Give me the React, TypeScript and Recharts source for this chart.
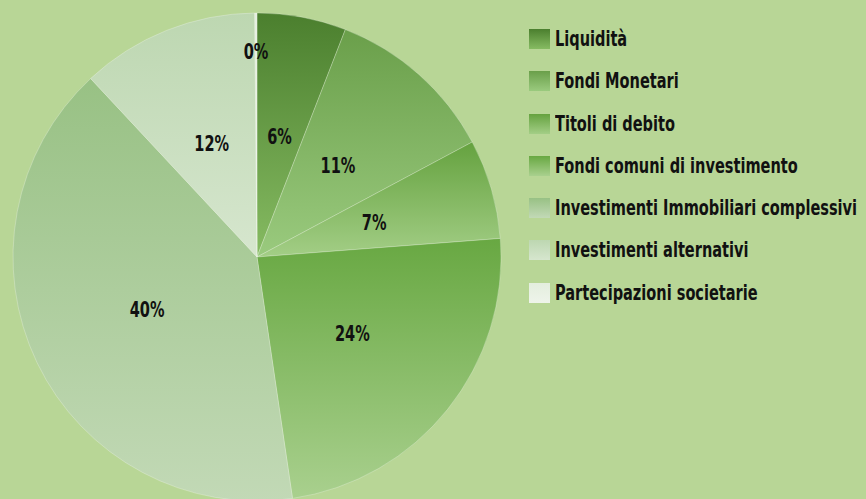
import React from 'react';
import { PieChart, Pie, Cell, Legend } from 'recharts';

const CATEGORIES = [
  'Liquidità',
  'Fondi Monetari',
  'Titoli di debito',
  'Fondi comuni di investimento',
  'Investimenti Immobiliari complessivi',
  'Investimenti alternativi',
  'Partecipazioni societarie',
];
const VALUES = [5.9, 11.3, 6.6, 23.9, 40.4, 11.8, 0.15];

const COLOR_TOP = ['#4b7f2e', '#6a9f4a', '#65a23f', '#68a842', '#98c184', '#bdd7b1', '#e4eede'];
const COLOR_BOTTOM = ['#86bb62', '#9aca7e', '#a3ce86', '#a9d08e', '#c2d9b6', '#d6e6ce', '#eef4ea'];

const data = CATEGORIES.map((name, i) => ({ name, value: VALUES[i] }));

const FONT = '"Liberation Sans Narrow", "DejaVu Sans Condensed", sans-serif';
const RADIAN = Math.PI / 180;
const SQUEEZE = 0.735;

const renderLabel = (props: any) => {
  const { cx, cy, midAngle, outerRadius, percent } = props;
  const r = percent < 0.01 ? outerRadius * 0.84 : outerRadius * 0.5;
  const x = cx + r * Math.cos(-midAngle * RADIAN);
  const y = cy + r * Math.sin(-midAngle * RADIAN);
  return (
    <text
      x={0}
      y={0}
      transform={`translate(${x},${y}) scale(${SQUEEZE},1)`}
      fill="#111"
      textAnchor="middle"
      dominantBaseline="central"
      fontFamily={FONT}
      fontWeight="bold"
      fontSize={22}
    >
      {`${Math.round(percent * 100)}%`}
    </text>
  );
};

const renderLegend = () => (
  <div style={{ fontFamily: FONT, fontWeight: 'bold', fontSize: 22, color: '#111' }}>
    {CATEGORIES.map((name, i) => (
      <div
        key={name}
        style={{ display: 'flex', alignItems: 'center', height: 20, marginBottom: 22.3, whiteSpace: 'nowrap' }}
      >
        <div
          style={{
            width: 21,
            height: 20,
            flexShrink: 0,
            marginRight: 5,
            background: `linear-gradient(${COLOR_TOP[i]}, ${COLOR_BOTTOM[i]})`,
          }}
        />
        <span
          style={{
            lineHeight: '20px',
            display: 'inline-block',
            transform: `scaleX(${SQUEEZE})`,
            transformOrigin: 'left center',
          }}
        >
          {name}
        </span>
      </div>
    ))}
  </div>
);

export default function App() {
  return (
    <div style={{ position: 'absolute', left: 0, top: 0, width: 866, height: 499, background: '#b8d696', overflow: 'hidden' }}>
      <PieChart width={866} height={499} margin={{ top: 0, right: 0, bottom: 0, left: 0 }}>
        <defs>
          {CATEGORIES.map((name, i) => (
            <linearGradient key={name} id={`grad${i}`} x1="0" y1="0" x2="0" y2="1">
              <stop offset="0%" stopColor={COLOR_TOP[i]} />
              <stop offset="100%" stopColor={COLOR_BOTTOM[i]} />
            </linearGradient>
          ))}
        </defs>
        <Pie
          data={data}
          dataKey="value"
          nameKey="name"
          cx={257}
          cy={257}
          outerRadius={244}
          startAngle={90}
          endAngle={-270}
          stroke="rgba(255,255,255,0.25)"
          strokeWidth={1}
          label={renderLabel}
          labelLine={false}
          isAnimationActive={false}
        >
          {data.map((d, i) => (
            <Cell key={d.name} fill={`url(#grad${i})`} />
          ))}
        </Pie>
        <Legend
          layout="vertical"
          align="right"
          verticalAlign="top"
          content={renderLegend}
          wrapperStyle={{ left: 529, top: 29, width: 337, right: 'auto' }}
        />
      </PieChart>
    </div>
  );
}
